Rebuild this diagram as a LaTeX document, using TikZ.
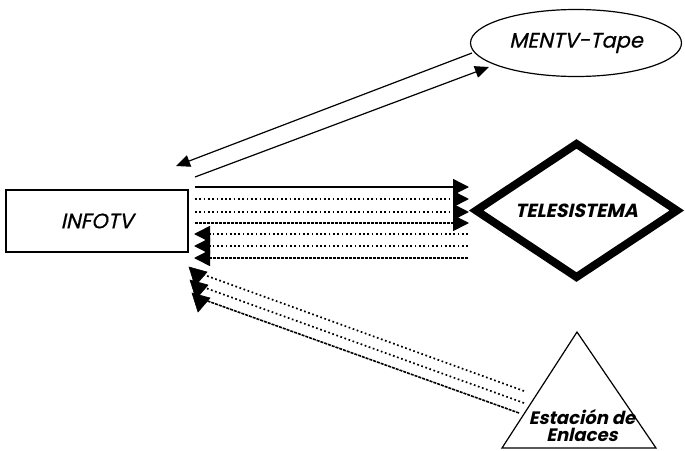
\documentclass[tikz,border=0pt]{standalone}
\usepackage{fontspec}
\newfontfamily\gfont[FakeSlant=0.22,FakeBold=0.6]{Poppins}
\newfontfamily\gbfont[FakeSlant=0.22]{Poppins}
\usetikzlibrary{arrows.meta,shapes.geometric}
\tikzset{
  thin line/.style={line width=1.2pt},
  tip/.style={-{Triangle[length=16pt,width=16pt]}},
  solidarrow/.style={line width=1.4pt,tip},
  sparse/.style={line width=1.7pt,dash pattern=on 1.7pt off 2.6pt,tip},
  dense/.style={line width=1.6pt,dash pattern=on 3pt off 1pt,tip},
  sparseline/.style={line width=1.7pt,dash pattern=on 1.7pt off 2.6pt},
  denseline/.style={line width=1.6pt,dash pattern=on 3pt off 1pt},
  headfill/.style={fill=black,draw=black,line width=0.6pt,line join=miter},
  diag/.style={line width=1.2pt,-{Triangle[length=14pt,width=12pt]}},
  lbl/.style={font=\gfont\fontsize{21}{23}\selectfont},
}
\begin{document}
\begin{tikzpicture}[x=1pt,y=-1pt]
\useasboundingbox (0,0) rectangle (685,450);

% nodes
\node[draw,thin line,minimum width=182pt,minimum height=62pt,inner sep=0pt,lbl] (info) at (97,221) {INFOTV};
\node[draw,ellipse,thin line,minimum width=211pt,minimum height=67pt,inner sep=0pt,lbl] (ment) at (576,43) {MENTV-Tape};
\node[draw,diamond,line width=8pt,miter limit=10,minimum width=204pt,minimum height=126pt,inner sep=0pt,
      font=\gbfont\bfseries\fontsize{19}{21}\selectfont] (tele) at (576.5,210.5) {TELESISTEMA};
\coordinate (ta) at (577,332);
\coordinate (tl) at (502,448);
\coordinate (tr) at (656,448);
\draw[thin line,line join=miter] (ta) -- (tr) -- (tl) -- cycle;
\node[align=center,inner sep=0pt,font=\gbfont\bfseries\fontsize{18}{17}\selectfont] (est) at (582,426) {Estación de\\Enlaces};

% diagonal arrows with MENTV-Tape
\coordinate (m1) at (472,53);
\coordinate (i1) at (176,166);
\coordinate (i2) at (195,177);
\coordinate (m2) at (489,67);
\draw[diag] (m1) -- (i1);
\draw[diag] (i2) -- (m2);

% arrows to TELESISTEMA
\foreach \y/\s [count=\k] in {187/solidarrow,199/sparse,212/sparse,223/dense}{
  \coordinate (a\k) at (195,\y);
  \coordinate (b\k) at (469,\y);
  \draw[\s] (a\k) -- (b\k);
}
% arrows back to INFOTV
\foreach \y/\s [count=\k] in {234/sparse,246/sparse,258/dense}{
  \coordinate (c\k) at (468,\y);
  \coordinate (d\k) at (194,\y);
  \draw[\s] (c\k) -- (d\k);
}
% arrows from Estacion de Enlaces (heads turned downwards)
\coordinate (e1) at (524,391);
\coordinate (e2) at (524,403);
\coordinate (e3) at (519,413);
\coordinate (g1) at (199,273);
\coordinate (g2) at (200,286);
\coordinate (g3) at (202,299);
\draw[sparseline] (e1) -- (g1);
\draw[sparseline] (e2) -- (g2);
\draw[denseline] (e3) -- (g3);
\foreach \k in {1,2,3}{
  \fill[headfill] ([shift={(-10,-6)}]g\k) -- ([shift={(8,-1)}]g\k) -- ([shift={(-4,13)}]g\k) -- cycle;
}
\end{tikzpicture}
\end{document}
